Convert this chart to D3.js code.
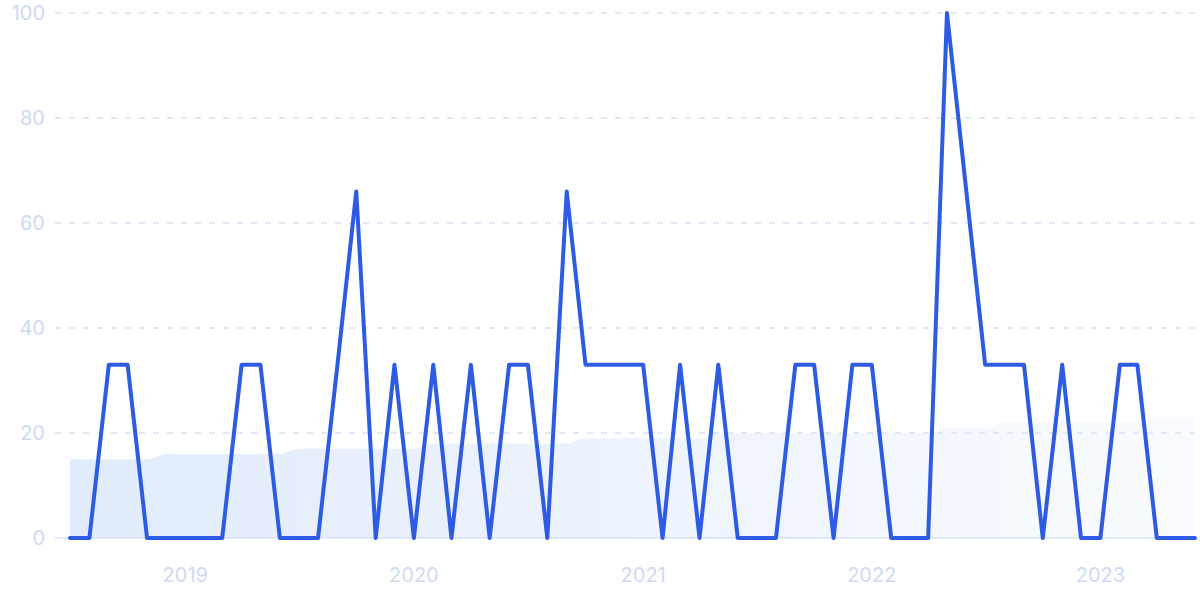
<!DOCTYPE html>
<html>
<head>
<meta charset="utf-8">
<script src="https://cdn.jsdelivr.net/npm/d3@7"></script>
<style>
  html, body { margin: 0; padding: 0; background: #fff; }
  svg { display: block; }
  text { font-family: Inter, "Noto Sans", sans-serif; }
</style>
</head>
<body>
<svg id="chart" width="1200" height="600"></svg>
<script>
// Monthly data, Jul 2018 .. Jun 2023
const startMonth = "2018-07";
const values = [
  0, 0, 33, 33, 0, 0,            // Jul-Dec 2018
  0, 0, 0, 33, 33, 0, 0, 0, 33, 66, 0, 33,   // 2019
  0, 33, 0, 33, 0, 33, 33, 0, 66, 33, 33, 33, // 2020
  33, 0, 33, 0, 33, 0, 0, 0, 33, 33, 0, 33,  // 2021
  33, 0, 0, 0, 100, 66, 33, 33, 33, 0, 33, 0, // 2022
  0, 33, 33, 0, 0, 0             // Jan-Jun 2023
];
const average = [
  15, 15, 15, 15, 15, 16,
  16, 16, 16, 16, 16, 16, 17, 17, 17, 17, 17, 17,
  17, 18, 18, 18, 18, 18, 18, 18, 18, 19, 19, 19,
  19, 19, 19, 19, 20, 20, 20, 20, 20, 20, 20, 20,
  20, 20, 20, 20, 21, 21, 21, 22, 22, 22, 22, 22,
  22, 22, 22, 23, 23, 23
];
const yTicks = [0, 20, 40, 60, 80, 100];
const xTickYears = [2019, 2020, 2021, 2022, 2023];

const parse = d3.timeParse("%Y-%m");
const d0 = parse(startMonth);
const dates = values.map((_, i) => d3.timeMonth.offset(d0, i));

const svg = d3.select("#chart");
const x = d3.scaleTime().domain([dates[0], dates[dates.length - 1]]).range([70, 1195]);
const y = d3.scaleLinear().domain([0, 100]).range([538, 13]);

// gradient for area
const defs = svg.append("defs");
const grad = defs.append("linearGradient").attr("id", "areaGrad")
  .attr("x1", "0%").attr("y1", "0%").attr("x2", "100%").attr("y2", "0%");
grad.append("stop").attr("offset", "0%").attr("stop-color", "#3a7be6").attr("stop-opacity", 0.15);
grad.append("stop").attr("offset", "100%").attr("stop-color", "#3a7be6").attr("stop-opacity", 0.03);

// area
const area = d3.area()
  .x((d, i) => x(dates[i]))
  .y0(y(0)).y1(d => y(d))
  .curve(d3.curveMonotoneX);
svg.append("path").datum(average).attr("d", area).attr("fill", "url(#areaGrad)");

// grid lines
const grid = svg.append("g");
grid.selectAll("line").data(yTicks.filter(t => t > 0)).join("line")
  .attr("x1", 55).attr("x2", 1195)
  .attr("y1", d => y(d)).attr("y2", d => y(d))
  .attr("stroke", "#d8e2f8").attr("stroke-width", 1.3)
  .attr("stroke-dasharray", "6,8");

// baseline
svg.append("line").attr("x1", 55).attr("x2", 1195).attr("y1", y(0)).attr("y2", y(0))
  .attr("stroke", "#d6e3fb").attr("stroke-width", 1.3);

// y labels
svg.append("g").selectAll("text").data(yTicks).join("text")
  .attr("x", 45).attr("y", d => y(d)).attr("dy", "0.35em")
  .attr("text-anchor", "end").attr("font-size", 20).attr("fill", "#cfd9f4")
  .text(d => d);

// x labels
svg.append("g").selectAll("text").data(xTickYears).join("text")
  .attr("x", d => x(new Date(d, 0, 1))).attr("y", 582)
  .attr("text-anchor", "middle").attr("font-size", 20).attr("fill", "#cfd9f4")
  .text(d => d);

// line
const line = d3.line().x((d, i) => x(dates[i])).y(d => y(d));
svg.append("path").datum(values).attr("d", line)
  .attr("fill", "none").attr("stroke", "#2d5be3").attr("stroke-width", 4)
  .attr("stroke-linejoin", "round").attr("stroke-linecap", "round");
</script>
</body>
</html>
